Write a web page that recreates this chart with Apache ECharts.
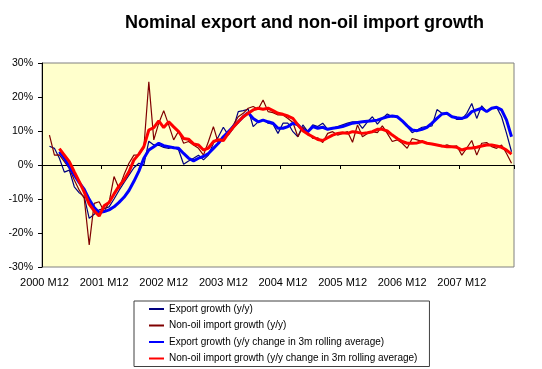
<!DOCTYPE html>
<html>
<head>
<meta charset="utf-8">
<script src="https://cdn.jsdelivr.net/npm/echarts@6/dist/echarts.min.js"></script>
<style>
  html, body { margin: 0; padding: 0; background: #ffffff; }
  #chart { width: 542px; height: 369px; }
</style>
</head>
<body>
<div id="chart"></div>
<script>
// Categories: monthly, 2000 M12 .. 2008 M10
var categories = [];
(function () {
  var y = 2000, m = 12;
  while (!(y === 2008 && m === 11)) {
    categories.push(y + ' M' + (m < 10 ? '0' + m : m));
    m++; if (m > 12) { m = 1; y++; }
  }
})();

var exportYY = [null,
  5.5, 4.9, 2.0, -2.1, -1.5, -6.4, -8.2, -9.3, -15.7, -14.5, -13.2, -12.8,
  -12.3, -10.0, -7.5, -5.2, -3.0, -0.8, 0.5, 0.0, 7.0, 5.9, 5.8, 5.2,
  4.9, 5.3, 4.4, 0.2, 1.2, 2.0, 2.9, 1.5, 2.9, 6.4, 8.3, 11.1,
  8.8, 10.8, 15.7, 16.0, 16.4, 11.3, 12.7, 13.4, 12.3, 12.0, 9.3, 12.3,
  12.3, 9.8, 8.3, 11.8, 9.8, 11.8, 11.3, 12.3, 10.5, 10.8, 11.3, 11.8,
  12.3, 12.7, 12.7, 10.8, 12.7, 14.2, 12.0, 13.7, 15.0, 14.2, 14.4, 12.7,
  11.3, 9.5, 10.3, 11.1, 11.3, 11.5, 16.3, 15.2, 15.2, 14.4, 13.4, 13.4,
  15.2, 18.1, 13.7, 17.4, 15.7, 16.7, 17.0, 14.2, 9.3, 3.9];

var importYY = [null,
  8.8, 2.9, 3.0, 1.0, -1.0, -4.4, -7.4, -9.8, -23.5, -11.3, -10.8, -13.7,
  -11.0, -3.4, -6.9, -2.9, 0.5, 2.9, 3.0, 5.0, 24.5, 7.4, 12.3, 16.0,
  11.8, 7.4, 10.0, 6.4, 6.9, 5.9, 4.9, 2.9, 6.9, 11.3, 6.4, 7.8,
  9.3, 11.8, 14.2, 15.2, 16.7, 17.2, 16.4, 19.1, 15.7, 15.4, 14.7, 14.7,
  13.7, 12.5, 8.3, 11.1, 9.5, 7.8, 8.0, 6.6, 9.3, 9.8, 8.8, 9.3,
  9.8, 6.7, 11.8, 8.3, 9.3, 9.8, 9.5, 11.5, 9.3, 6.9, 7.4, 6.4,
  4.9, 7.8, 7.4, 6.9, 6.4, 6.2, 5.9, 5.4, 5.9, 5.4, 5.6, 2.9,
  5.0, 7.2, 2.9, 6.4, 6.6, 5.4, 4.9, 5.9, 3.4, 0.5];

var export3m = [null, null, null,
  3.9, 2.0, -0.5, -2.9, -5.2, -7.2, -10.1, -12.5, -14.0, -13.7,
  -13.2, -12.3, -11.0, -9.5, -7.5, -4.8, -1.8, 2.0, 4.4, 5.4, 6.4, 5.7,
  5.4, 5.1, 4.9, 3.4, 2.0, 1.2, 2.0, 2.5, 3.4, 4.9, 6.4, 8.3,
  9.8, 11.3, 12.7, 14.2, 15.4, 13.7, 12.7, 13.2, 12.7, 12.3, 10.8, 10.8,
  11.3, 12.3, 11.8, 10.3, 9.8, 11.3, 10.8, 11.1, 10.5, 10.8, 11.0, 11.3,
  11.8, 12.3, 12.5, 12.7, 12.9, 13.0, 13.2, 13.7, 14.2, 14.4, 14.2, 13.0,
  11.5, 10.3, 10.1, 10.5, 11.1, 12.3, 13.7, 15.0, 15.2, 14.2, 13.9, 13.7,
  14.2, 15.7, 16.2, 16.7, 15.7, 16.7, 17.0, 16.2, 13.2, 8.3];

var import3m = [null, null, null,
  4.8, 2.9, 1.0, -2.0, -4.9, -8.0, -11.5, -13.5, -15.0, -12.0,
  -11.0, -8.5, -6.2, -4.4, -2.0, 1.5, 3.2, 5.4, 10.3, 11.0, 13.0, 11.0,
  12.7, 11.2, 9.8, 7.8, 7.6, 6.2, 5.9, 4.4, 5.0, 6.9, 7.4, 7.2,
  9.3, 11.1, 12.7, 14.2, 15.2, 16.2, 16.7, 16.4, 16.7, 16.0, 15.2, 14.9,
  14.4, 13.7, 11.8, 10.1, 9.1, 8.3, 7.5, 7.2, 8.0, 8.8, 9.3, 9.5,
  9.3, 9.8, 9.6, 9.3, 9.5, 9.8, 10.5, 10.5, 10.0, 8.8, 7.8, 6.9,
  6.4, 6.4, 6.5, 6.9, 6.4, 6.2, 5.9, 5.6, 5.4, 5.4, 5.2, 4.4,
  4.9, 5.0, 5.2, 5.6, 5.9, 5.9, 5.6, 5.2, 4.4, 3.2];

var seriesNames = [
  'Export growth (y/y)',
  'Non-oil import growth (y/y)',
  'Export growth (y/y change in 3m rolling average)',
  'Non-oil import growth (y/y change in 3m rolling average)'
];

var FONT = 'Liberation Sans, Arial, sans-serif';
var chart = echarts.init(document.getElementById('chart'), null, { renderer: 'canvas' });

function lineSeries(name, data, color, width) {
  return {
    name: name, type: 'line', data: data, xAxisIndex: 0, yAxisIndex: 0,
    symbol: 'none', showSymbol: false, smooth: false, animation: false,
    lineStyle: { color: color, width: width }, itemStyle: { color: color }
  };
}

chart.setOption({
  backgroundColor: '#ffffff',
  animation: false,
  title: {
    text: 'Nominal export and non-oil import growth',
    left: 120, top: 9,
    textStyle: { fontFamily: FONT, fontSize: 18, fontWeight: 'bold', color: '#000' }
  },
  grid: {
    left: 42, right: 28, top: 63, bottom: 102,
    show: true, backgroundColor: '#FFFFCC', borderColor: '#808080', borderWidth: 1
  },
  legend: {
    orient: 'vertical', left: 134, top: 301,
    padding: [2, 12, 2, 15],
    itemGap: 4.5, itemWidth: 15, itemHeight: 2,
    icon: 'rect',
    borderColor: '#404040', borderWidth: 1, backgroundColor: '#ffffff',
    textStyle: { fontFamily: FONT, fontSize: 10, color: '#000', lineHeight: 12 },
    data: seriesNames
  },
  xAxis: [
    {
      type: 'category', data: categories, position: 'bottom', boundaryGap: true,
      axisLine: { show: false, onZero: false },
      axisTick: { show: false },
      axisLabel: { interval: 11, fontFamily: FONT, fontSize: 11, color: '#000', margin: 10 },
      splitLine: { show: false }
    },
    {
      type: 'category', data: categories, position: 'top', boundaryGap: true,
      axisLine: { show: true, onZero: true, lineStyle: { color: '#000', width: 1 } },
      axisTick: { show: true, interval: 11, inside: true, length: 4, lineStyle: { color: '#000' } },
      axisLabel: { show: false },
      splitLine: { show: false }
    }
  ],
  yAxis: {
    type: 'value', min: -30, max: 30, interval: 10,
    axisLine: { show: true, lineStyle: { color: '#000' } },
    axisTick: { show: true, length: 4, lineStyle: { color: '#000' } },
    axisLabel: { formatter: '{value}%', fontFamily: FONT, fontSize: 10.5, color: '#000', margin: 9 },
    splitLine: { show: false }
  },
  series: [
    lineSeries(seriesNames[0], exportYY, '#000080', 1.2),
    lineSeries(seriesNames[1], importYY, '#800000', 1.2),
    lineSeries(seriesNames[2], export3m, '#0000FF', 3),
    lineSeries(seriesNames[3], import3m, '#FF0000', 3)
  ]
});
</script>
</body>
</html>
